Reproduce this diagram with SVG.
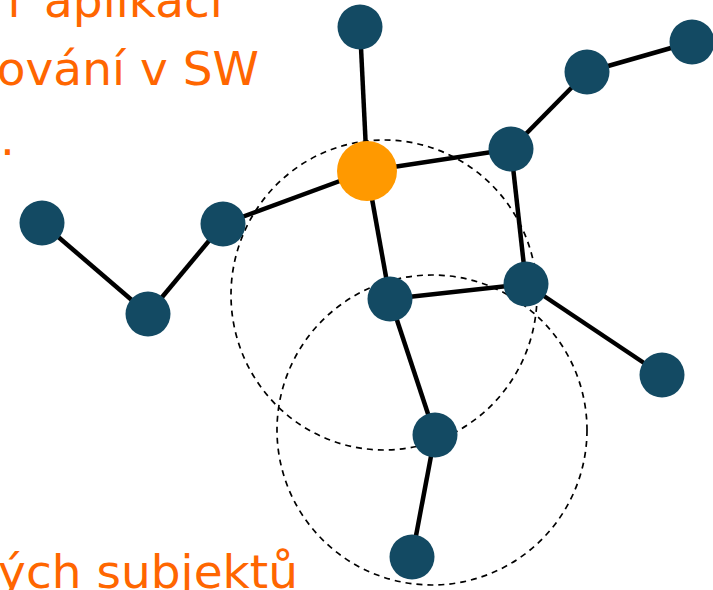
<svg xmlns="http://www.w3.org/2000/svg" width="713" height="590" viewBox="0 0 713 590">
<style>
.t{font-family:"DejaVu Sans","Liberation Sans",sans-serif;font-size:47px;fill:#FF6600}
.e{stroke:#000;stroke-width:4.5;fill:none}
.n{fill:#134A63}
.o{fill:#FF9900}
.r{fill:none;stroke:#000;stroke-width:1.7;stroke-dasharray:6 5}
</style>
<rect width="713" height="590" fill="#fff"/>
<g id="text">
<text class="t" y="17"><tspan x="7.5">í</tspan><tspan x="44">aplikací</tspan></text>
<text class="t" x="259" y="85" text-anchor="end">ování v SW</text>
<text class="t" x="0" y="155">.</text>
<text class="t" x="298" y="588" text-anchor="end">ých subjektů</text>
</g>
<g id="ranges">
<ellipse class="r" cx="384" cy="295" rx="153" ry="155"/>
<ellipse class="r" cx="432" cy="430" rx="155" ry="155"/>
</g>
<g id="connectors">
<line class="e" x1="360" y1="27" x2="367" y2="171"/>
<line class="e" x1="367" y1="171" x2="511" y2="149"/>
<line class="e" x1="367" y1="171" x2="223" y2="224"/>
<line class="e" x1="367" y1="171" x2="390" y2="299"/>
<line class="e" x1="511" y1="149" x2="587" y2="72"/>
<line class="e" x1="587" y1="72" x2="692" y2="42"/>
<line class="e" x1="511" y1="149" x2="526" y2="284"/>
<line class="e" x1="390" y1="299" x2="526" y2="284"/>
<line class="e" x1="526" y1="284" x2="662" y2="375"/>
<line class="e" x1="390" y1="299" x2="435" y2="435"/>
<line class="e" x1="435" y1="435" x2="412" y2="557"/>
<line class="e" x1="223" y1="224" x2="148" y2="314"/>
<line class="e" x1="148" y1="314" x2="42" y2="223"/>
</g>
<g id="n1"><circle class="n" cx="360" cy="27" r="22.5"/></g>
<g id="n2"><circle class="n" cx="692" cy="42" r="22.5"/></g>
<g id="n3"><circle class="n" cx="587" cy="72" r="22.5"/></g>
<g id="n4"><circle class="n" cx="511" cy="149" r="22.5"/></g>
<g id="center"><circle class="o" cx="367" cy="171" r="30"/></g>
<g id="n5"><circle class="n" cx="42" cy="223" r="22.5"/></g>
<g id="n6"><circle class="n" cx="223" cy="224" r="22.5"/></g>
<g id="n7"><circle class="n" cx="148" cy="314" r="22.5"/></g>
<g id="n8"><circle class="n" cx="390" cy="299" r="22.5"/></g>
<g id="n9"><circle class="n" cx="526" cy="284" r="22.5"/></g>
<g id="n10"><circle class="n" cx="662" cy="375" r="22.5"/></g>
<g id="n11"><circle class="n" cx="435" cy="435" r="22.5"/></g>
<g id="n12"><circle class="n" cx="412" cy="557" r="22.5"/></g>
</svg>
